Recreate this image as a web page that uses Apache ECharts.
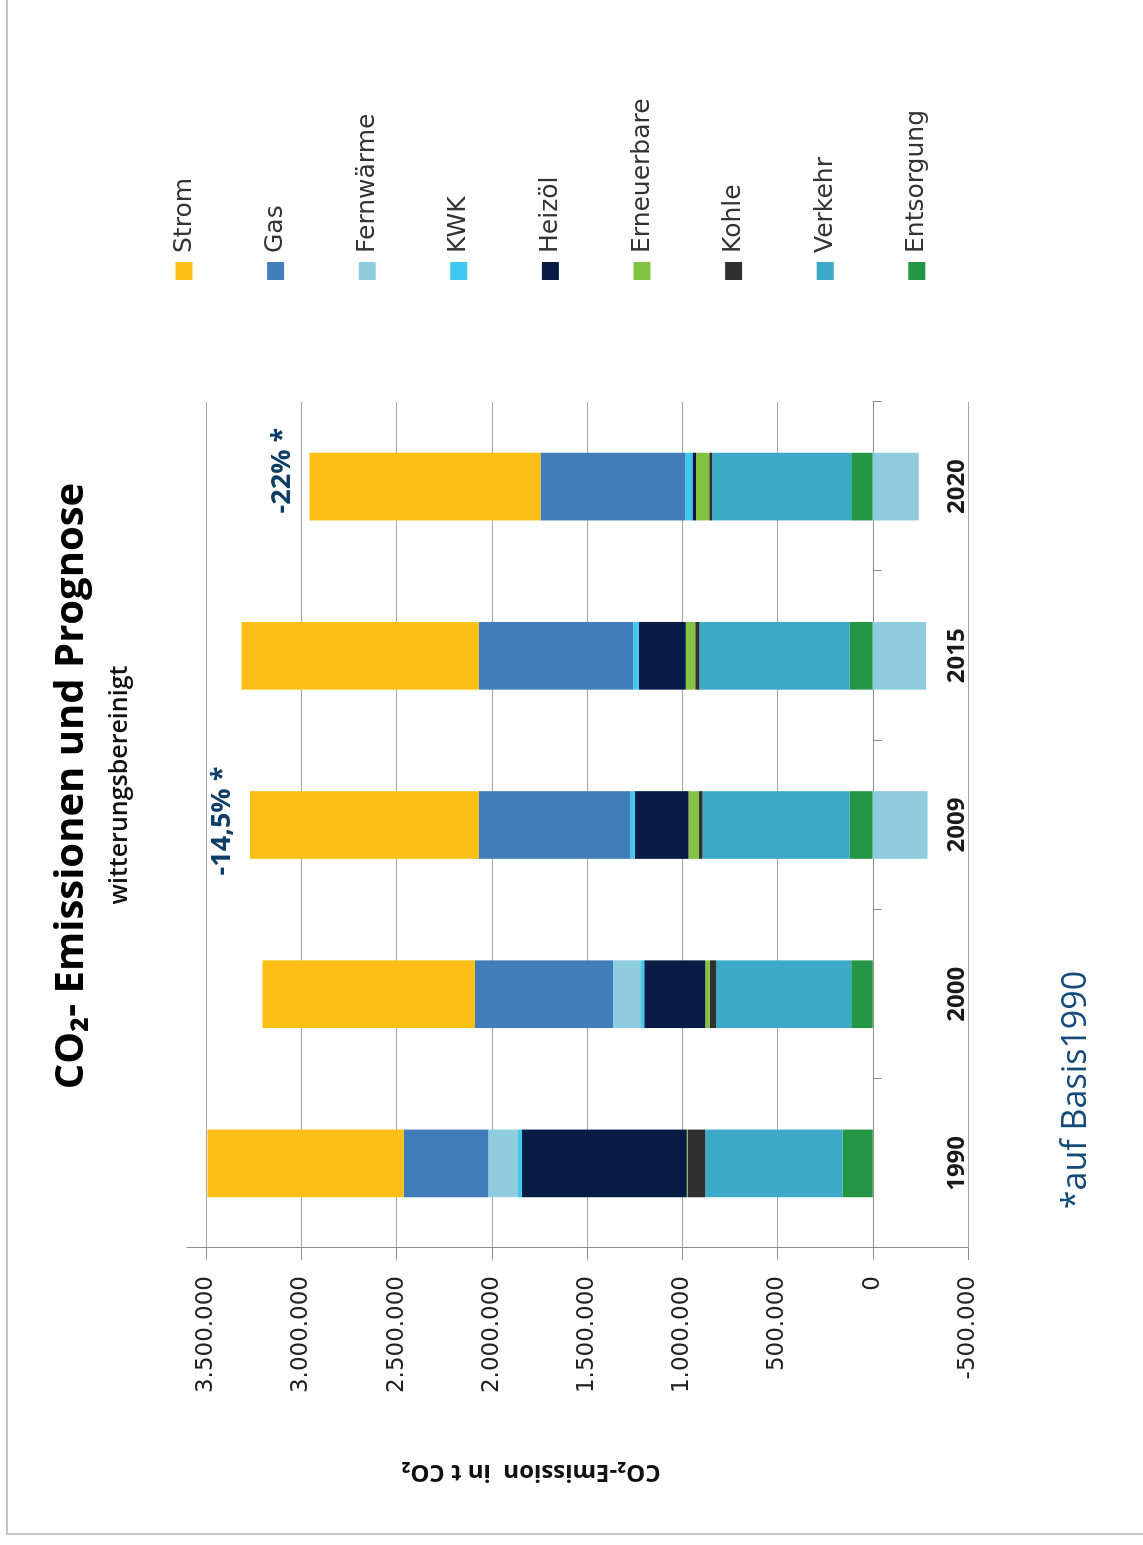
<!DOCTYPE html>
<html>
<head>
<meta charset="utf-8">
<script src="https://cdn.jsdelivr.net/npm/echarts@6/dist/echarts.min.js"></script>
<style>
html, body { margin:0; padding:0; overflow:hidden; background:#fff; }
#wrap { position:absolute; left:0; top:0; width:1143px; height:1545px; overflow:hidden; }
#chart { position:absolute; left:0; top:0; width:1545px; height:1143px;
  transform-origin:0 0; transform:translate(0,1545px) rotate(-90deg); }
</style>
</head>
<body>
<div id="wrap"><div id="chart"></div></div>
<script>
// ---- data ----
const categories  = ['1990', '2000', '2009', '2015', '2020'];
const strom       = [1030000, 1115000, 1201000, 1246000, 1213000];
const gas         = [443000, 725000, 796000, 811000, 760000];
const fernwaerme  = [156000, 146000, -287000, -279000, -242000];
const kwk         = [20000, 18000, 23000, 28000, 38000];
const heizoel     = [866000, 320000, 282000, 247000, 18000];
const erneuerbare = [5000, 23000, 53000, 50000, 70000];
const kohle       = [93000, 33000, 20000, 23000, 15000];
const verkehr     = [720000, 710000, 773000, 788000, 730000];
const entsorgung  = [159000, 113000, 121000, 121000, 113000];
const annotations = ['', '', '-14,5% *', '', '-22% *'];
const tickValues  = [-500000, 0, 500000, 1000000, 1500000, 2000000, 2500000, 3000000, 3500000];
const legendOrder = ['Strom', 'Gas', 'Fernwärme', 'KWK', 'Heizöl', 'Erneuerbare', 'Kohle', 'Verkehr', 'Entsorgung'];

const colors = {
  'Strom': '#FBC015', 'Gas': '#417CBB', 'Fernwärme': '#8ECCDE', 'KWK': '#3FC8F0',
  'Heizöl': '#071B45', 'Erneuerbare': '#84C241', 'Kohle': '#303030',
  'Verkehr': '#3CA9C6', 'Entsorgung': '#259646'
};
const annOffsets = [[0,0],[0,0],[4,0],[0,0],[16,0]];

// stacking order, bottom first
const stackSeries = [
  ['Entsorgung', entsorgung], ['Verkehr', verkehr], ['Kohle', kohle],
  ['Erneuerbare', erneuerbare], ['Heizöl', heizoel], ['KWK', kwk],
  ['Fernwärme', fernwaerme], ['Gas', gas], ['Strom', strom]
];

function fmt(v) {
  return String(v).replace(/\B(?=(\d{3})+(?!\d))/g, '.');
}

const series = stackSeries.map(([name, vals]) => {
  let data = vals;
  if (name === 'Strom') {
    data = vals.map((v, i) => annotations[i] ? {
      value: v,
      label: {
        show: true, position: 'top', distance: 14, offset: annOffsets[i],
        formatter: annotations[i],
        fontFamily: 'Open Sans', fontWeight: 'bold', fontSize: 27, color: '#0E3D66'
      }
    } : v);
  }
  return {
    name, type: 'bar', stack: 'total', barWidth: '40%',
    itemStyle: { color: colors[name] },
    data
  };
});

const chart = echarts.init(document.getElementById('chart'), null, { renderer: 'canvas' });
chart.setOption({
  animation: false,
  backgroundColor: '#fff',
  grid: { left: 297, right: 402, top: 187, bottom: 175, containLabel: false },
  legend: {
    data: legendOrder, orient: 'vertical', left: 1260, top: 166,
    itemWidth: 18, itemHeight: 17, itemGap: 65.6, icon: 'rect', selectedMode: false,
    textStyle: { fontFamily: 'DejaVu Sans', fontSize: 25, color: '#333', lineHeight: 26, padding: [0,0,0,4] }
  },
  xAxis: {
    type: 'category', data: categories,
    axisLine: { onZero: true, lineStyle: { color: '#8c8c8c', width: 1 } },
    axisTick: { show: true, length: 9, lineStyle: { color: '#8c8c8c' } },
    axisLabel: { margin: -23, fontFamily: 'Open Sans', fontWeight: 'bold', fontSize: 24, color: '#1a1a1a' }
  },
  yAxis: {
    type: 'value', min: -500000, max: 3600000, interval: 500000,
    axisLine: { show: true, lineStyle: { color: '#8c8c8c', width: 1 } },
    axisTick: { show: true, length: 12, customValues: tickValues, lineStyle: { color: '#8c8c8c' } },
    splitLine: { show: true, lineStyle: { color: '#a6a6a6', width: 1 } },
    axisLabel: { margin: 28, customValues: tickValues, formatter: fmt,
      fontFamily: 'DejaVu Sans', fontSize: 23, color: '#222' }
  },
  graphic: [
    { type: 'rect', shape: { x: 11, y: 7, width: 1700, height: 1300 }, silent: true,
      style: { fill: 'none', stroke: '#c4c4c4', lineWidth: 2 } },
    { type: 'text', x: 759, y: 72,
      style: { text: 'CO₂- Emissionen und Prognose', font: 'bold 40px "Open Sans"', fill: '#000',
        textAlign: 'center', textVerticalAlign: 'middle' } },
    { type: 'text', x: 760, y: 120,
      style: { text: 'witterungsbereinigt', font: '600 25px "Open Sans"', fill: '#111',
        textAlign: 'center', textVerticalAlign: 'middle' } },
    { type: 'text', x: 73, y: 531, rotation: Math.PI / 2,
      style: { text: 'CO₂-Emission  in t CO₂', font: 'bold 24px "Open Sans"', fill: '#111',
        textAlign: 'center', textVerticalAlign: 'middle' } },
    { type: 'text', x: 455, y: 1076,
      style: { text: '*auf Basis1990', font: '34px "Open Sans"', fill: '#164B79',
        textAlign: 'center', textVerticalAlign: 'middle' } }
  ],
  series
});
</script>
</body>
</html>
